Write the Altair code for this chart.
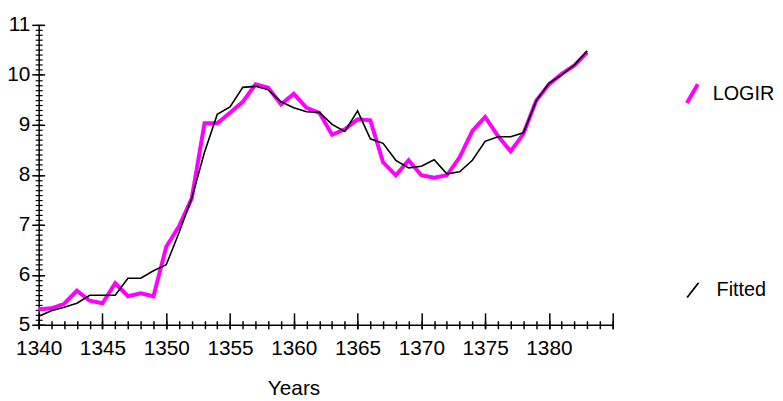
import altair as alt
import pandas as pd

years = list(range(1340, 1384))
logir = [5.31, 5.33, 5.42, 5.68, 5.48, 5.43, 5.83, 5.57, 5.63, 5.57,
         6.56, 6.97, 7.53, 9.03, 9.03, 9.24, 9.46, 9.81, 9.74, 9.41,
         9.62, 9.34, 9.24, 8.80, 8.91, 9.11, 9.09, 8.25, 7.99, 8.29,
         7.99, 7.94, 7.99, 8.35, 8.88, 9.16, 8.78, 8.47, 8.82, 9.48,
         9.81, 10.02, 10.19, 10.45]
fitted = [5.17, 5.28, 5.35, 5.43, 5.59, 5.59, 5.59, 5.93, 5.93, 6.08,
          6.20, 6.84, 7.53, 8.45, 9.21, 9.36, 9.75, 9.77, 9.70, 9.46,
          9.34, 9.26, 9.25, 9.01, 8.87, 9.28, 8.72, 8.63, 8.29, 8.14,
          8.17, 8.30, 8.02, 8.06, 8.29, 8.67, 8.76, 8.76, 8.84, 9.48,
          9.83, 10.00, 10.20, 10.48]
x_major = [1340, 1345, 1350, 1355, 1360, 1365, 1370, 1375, 1380, 1385]
x_minor = list(range(1340, 1386))
y_major = [5, 6, 7, 8, 9, 10, 11]
y_minor = [round(5 + i * 0.1, 1) for i in range(61)]

df = pd.DataFrame({"Year": years, "LOGIR": logir, "Fitted": fitted})

FONT = "Liberation Sans, Arial, sans-serif"
FS = 21
LFS = 20

x_scale = alt.Scale(domain=[1340, 1385], nice=False, zero=False)
y_scale = alt.Scale(domain=[5, 11], nice=False, zero=False)

x_major_axis = alt.Axis(values=x_major, format="d",
                        labelExpr="datum.value == 1385 ? '' : datum.label",
                        orient="bottom", offset=-12, tickSize=16, tickWidth=1.5,
                        tickColor="black", domain=False, grid=False,
                        labelFont=FONT, labelFontSize=FS, labelColor="black",
                        labelPadding=9, labelFlush=False, labelOverlap=False,
                        title=None)
x_minor_axis = alt.Axis(values=x_minor, orient="bottom", offset=-4, tickSize=8,
                        tickWidth=1.5, tickColor="black", labels=False,
                        domain=False, grid=False, title=None)
x_domain_axis = alt.Axis(orient="bottom", ticks=False, labels=False, domain=True,
                         domainColor="black", domainWidth=1.5, grid=False,
                         title="Years", titleFont=FONT, titleFontSize=FS,
                         titleFontWeight="normal", titleColor="black",
                         titleX=257.5, titleY=70, titleAlign="center",
                         titleBaseline="alphabetic")

y_major_axis = alt.Axis(values=y_major, orient="left", offset=-6, tickSize=13,
                        tickWidth=1.5, tickColor="black", domain=False, grid=False,
                        labelFont=FONT, labelFontSize=FS, labelColor="black",
                        labelPadding=2, labelFlush=False, labelOverlap=False,
                        title=None)
y_minor_axis = alt.Axis(values=y_minor, orient="left", offset=-3.5, tickSize=7,
                        tickWidth=1.2, tickColor="black", labels=False,
                        domain=False, grid=False, title=None)
y_domain_axis = alt.Axis(orient="left", ticks=False, labels=False, domain=True,
                         domainColor="black", domainWidth=1.5, grid=False,
                         title=None)

base = alt.Chart(df)

l1 = base.mark_line(strokeWidth=4).transform_calculate(series="'LOGIR'").encode(
    x=alt.X("Year:Q", scale=x_scale, axis=x_major_axis),
    y=alt.Y("LOGIR:Q", scale=y_scale, axis=y_major_axis),
    color=alt.Color("series:N",
                    scale=alt.Scale(domain=["LOGIR"], range=["#ff00ff"]),
                    legend=alt.Legend(orient="none", legendX=649, legendY=58,
                                      title=None, symbolType="M-0.58,1L0.58,-1",
                                      symbolSize=361, symbolStrokeWidth=4,
                                      labelFont=FONT, labelFontSize=LFS,
                                      labelColor="black", labelOffset=9,
                                      padding=0)),
)

l2 = base.mark_line(strokeWidth=1.6).transform_calculate(series="'Fitted'").encode(
    x=alt.X("Year:Q", scale=x_scale, axis=x_minor_axis),
    y=alt.Y("Fitted:Q", scale=y_scale, axis=y_minor_axis),
    color=alt.Color("series:N",
                    scale=alt.Scale(domain=["Fitted"], range=["#000000"]),
                    legend=alt.Legend(orient="none", legendX=651, legendY=258,
                                      title=None, symbolType="M-0.77,1L0.77,-1",
                                      symbolSize=225, symbolStrokeWidth=1.8,
                                      labelFont=FONT, labelFontSize=LFS,
                                      labelColor="black", labelOffset=14,
                                      padding=0)),
)

l3 = base.mark_line(opacity=0).encode(
    x=alt.X("Year:Q", scale=x_scale, axis=x_domain_axis),
    y=alt.Y("LOGIR:Q", scale=y_scale, axis=y_domain_axis),
)

chart = alt.layer(l1, l2, l3).resolve_scale(color="independent").resolve_axis(
    x="independent", y="independent"
).properties(
    width=580, height=303,
    autosize=alt.AutoSizeParams(type="none"),
    padding={"left": 31, "top": 15, "right": 164, "bottom": 75},
).configure_view(strokeWidth=0)

chart.save("out.html", embed_options={"renderer": "svg", "actions": False})
